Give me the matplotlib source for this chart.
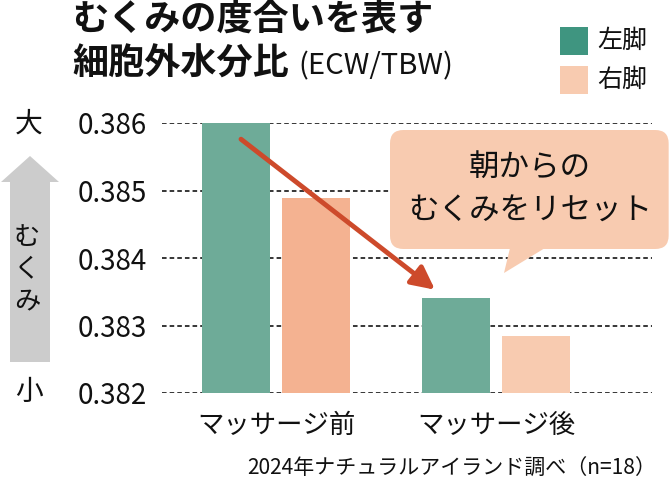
import matplotlib
matplotlib.use("Agg")
import matplotlib.pyplot as plt
from matplotlib.patches import FancyBboxPatch, Polygon
import numpy as np

plt.rcParams['font.family'] = ['Noto Sans CJK JP', 'DejaVu Sans']

# data
groups = ['マッサージ前', 'マッサージ後']
left_leg = [0.38600, 0.38341]
right_leg = [0.38489, 0.38284]
yticks = [0.382, 0.383, 0.384, 0.385, 0.386]
ytick_labels = ['0.382', '0.383', '0.384', '0.385', '0.386']
series_names = ['左脚', '右脚']

green = '#6eab98'
green_dark = '#3f9580'
salmon = '#f4b291'
peach = '#f8cbb0'
arrow_red = '#cd4a2b'

W, H = 670, 484
fig = plt.figure(figsize=(W / 100, H / 100), dpi=100)


def fx(x):
    return x / W


def fy(y):
    return 1 - y / H


# axes spanning the gridline area
ax = fig.add_axes([fx(162), fy(393), (652 - 162) / W, (393 - 123) / H])
x = np.arange(len(groups))
off = 40 / 220
bw = 68 / 220
base = 0.382
ax.bar(x - off, np.array(left_leg) - base, bw, bottom=base,
       color=green, zorder=2)
ax.bar(x + off, np.array(right_leg) - base, bw, bottom=base,
       color=[salmon, peach], zorder=2)
ax.set_xlim((162 - 276) / 220, (652 - 276) / 220)
ax.set_ylim(0.382, 0.386)
ax.set_yticks(yticks)
ax.set_yticklabels(ytick_labels, fontsize=20, color='#111111')
ax.set_xticks(x)
ax.set_xticklabels(groups, fontsize=19, color='#111111')
ax.tick_params(length=0, axis='y', pad=11)
ax.tick_params(length=0, axis='x', pad=14)
for s in ax.spines.values():
    s.set_visible(False)
for t in yticks:
    ax.axhline(t, color='#000000', lw=1.1, ls=(0, (3, 2)), zorder=1)

# red arrow
ax.annotate('', xy=((435 - 276) / 220, 0.38353), xytext=((241 - 276) / 220, 0.38576),
            arrowprops=dict(arrowstyle='-|>,head_length=1.4,head_width=0.7',
                            color=arrow_red, lw=3.5, shrinkA=0, shrinkB=0),
            zorder=4)

# callout bubble
bub = FancyBboxPatch((fx(390), fy(249)), fx(670 - 390) - 0.002, (249 - 130) / H,
                     boxstyle='round,pad=0,rounding_size=0.02',
                     transform=fig.transFigure, facecolor=peach, edgecolor='none',
                     mutation_aspect=W / H, zorder=5)
fig.patches.append(bub)
tail = Polygon([(fx(510), fy(248)), (fx(545), fy(248)), (fx(504), fy(273))],
               closed=True, transform=fig.transFigure, facecolor=peach,
               edgecolor='none', zorder=5)
fig.patches.append(tail)
fig.text(fx(530), fy(190), '朝からの\nむくみをリセット', ha='center', va='center',
         fontsize=22, color='#111111', linespacing=1.5, zorder=6)

# title
fig.text(fx(72), fy(20), 'むくみの度合いを表す', fontsize=26, fontweight='bold',
         ha='left', va='center', color='#111111')
fig.text(fx(72), fy(64), '細胞外水分比', fontsize=26, fontweight='bold',
         ha='left', va='center', color='#111111')
fig.text(fx(298), fy(66), '(ECW/TBW)', fontsize=21, ha='left', va='center',
         color='#111111')

# legend
for i, (name, col) in enumerate(zip(series_names, [green_dark, peach])):
    yc = 41 + i * 39
    fig.patches.append(plt.Rectangle((fx(560), fy(yc + 14)), 28 / W, 28 / H,
                                     transform=fig.transFigure, facecolor=col,
                                     edgecolor='none'))
    fig.text(fx(597), fy(yc), name, fontsize=18, ha='left', va='center',
             color='#111111')

# left indicator
fig.text(fx(29), fy(124), '大', fontsize=20, ha='center', va='center', color='#111111')
fig.text(fx(29), fy(392), '小', fontsize=20, ha='center', va='center', color='#111111')
gray_arrow = Polygon([(fx(10), fy(362)), (fx(50), fy(362)), (fx(50), fy(182)),
                      (fx(59), fy(182)), (fx(30), fy(156)), (fx(1), fy(182)),
                      (fx(10), fy(182))], closed=True, transform=fig.transFigure,
                     facecolor='#cccccc', edgecolor='none')
fig.patches.append(gray_arrow)
for ch, yy in zip('むくみ', [238, 269, 302]):
    fig.text(fx(27), fy(yy), ch, fontsize=19, ha='center', va='center',
             color='#111111')

# footnote
fig.text(fx(656), fy(469), '2024年ナチュラルアイランド調べ（n=18）', fontsize=15.1,
         ha='right', va='center', color='#111111')

fig.savefig('out.png', dpi=100)
